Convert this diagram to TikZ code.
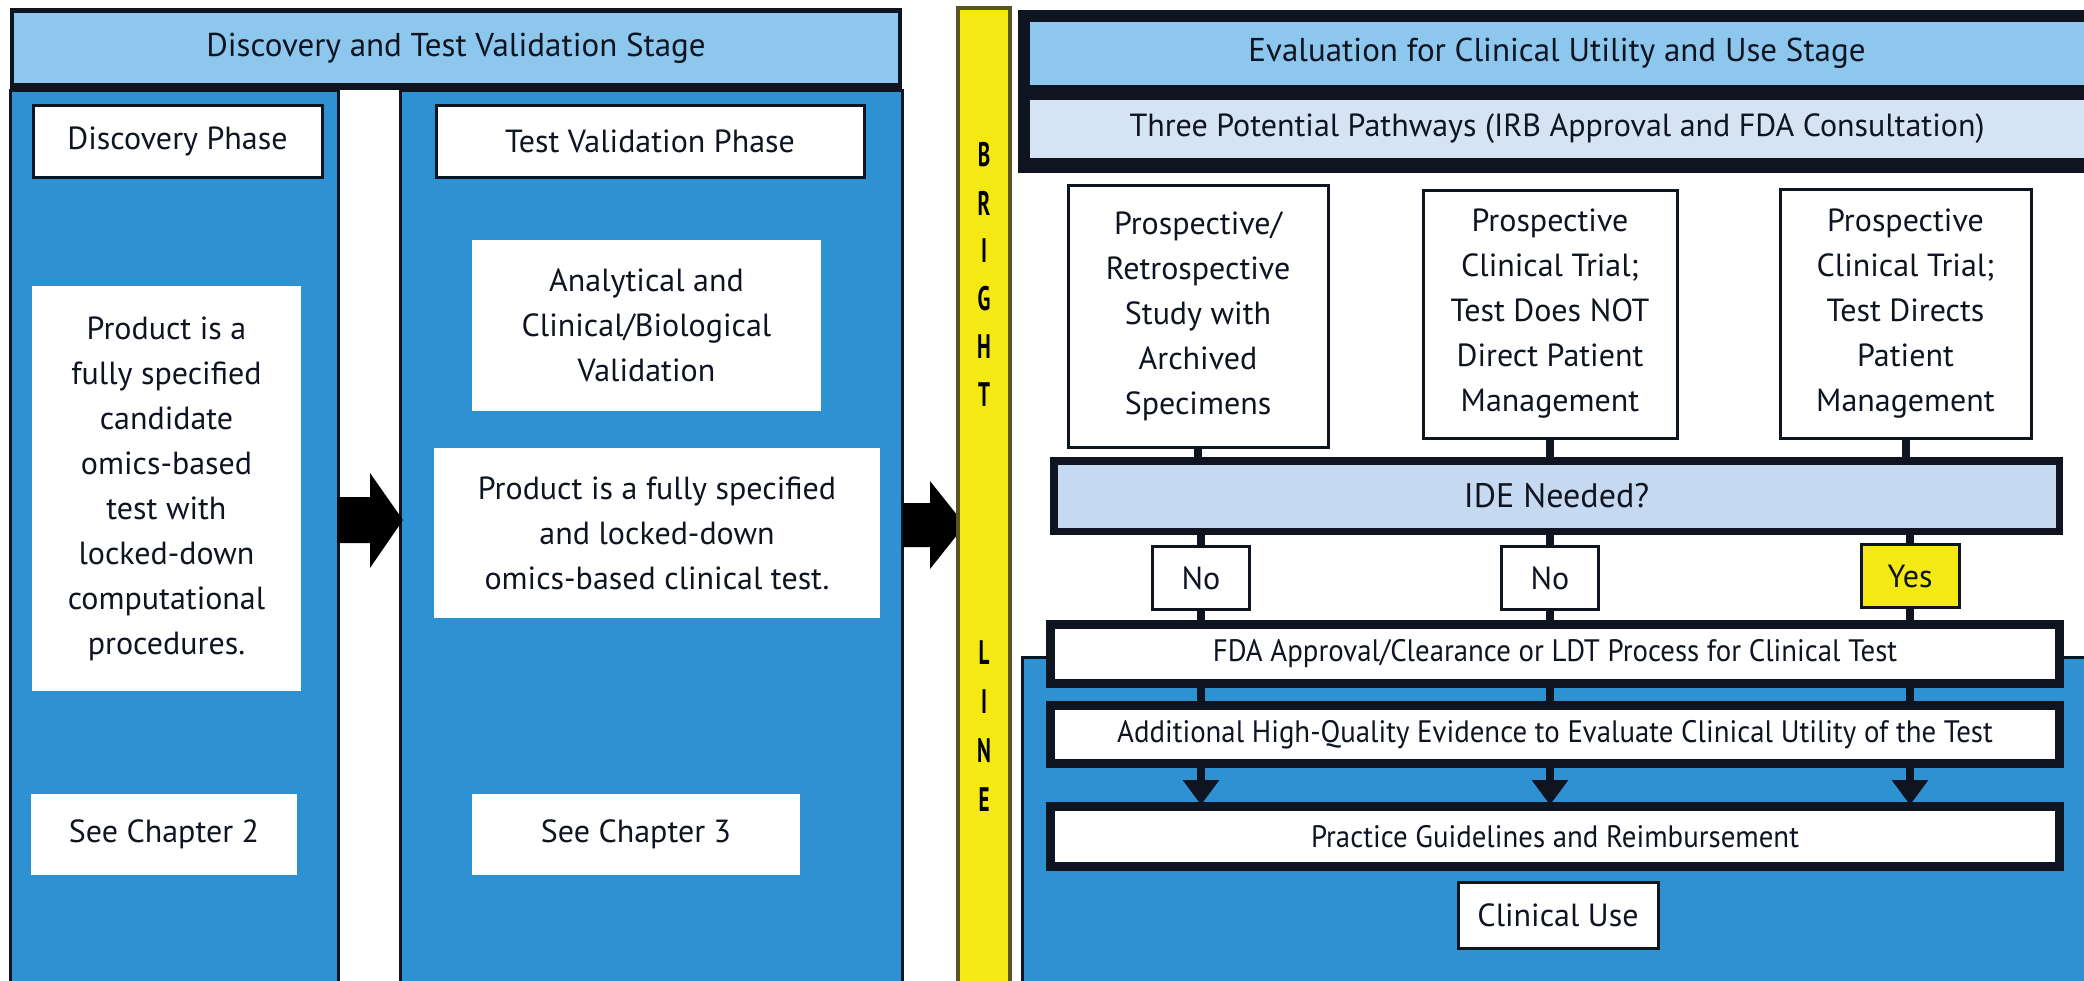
\documentclass[tikz,border=0pt]{standalone}
\usepackage{fontspec}
\setmainfont{PT Sans}
\newfontfamily\barfont[FakeStretch=0.93]{PT Sans}
\newfontfamily\letterfont[FakeStretch=0.62]{PT Sans}
\usetikzlibrary{arrows.meta}

\definecolor{inkc}{RGB}{14,20,32}
\definecolor{midblue}{RGB}{45,145,210}
\definecolor{headblue}{RGB}{141,199,238}
\definecolor{paleblue}{RGB}{214,227,243}
\definecolor{idepale}{RGB}{197,217,240}
\definecolor{brightyellow}{RGB}{245,233,20}
\definecolor{olivec}{RGB}{90,84,30}

\begin{document}
\begin{tikzpicture}[x=1pt,y=-1pt,
  txt/.style={font=\fontsize{32}{45}\selectfont, text=inkc, align=center, inner sep=0pt},
  plainbox/.style={txt, fill=white, draw=none},
  framebox/.style={txt, fill=white, draw=inkc, line width=3pt},
  headbox/.style={txt, font=\fontsize{33}{40}\selectfont, fill=headblue, draw=none},
  barbox/.style={font=\barfont\fontsize{31}{40}\selectfont, text=inkc, align=center, inner sep=0pt,
                 fill=white, draw=inkc, line width=6pt},
  colbox/.style={fill=midblue, draw=inkc, line width=3pt},
  conn/.style={draw=inkc, line width=8pt},
  connarrow/.style={conn, -{Triangle[width=35pt,length=25pt]}},
  blockarrow/.style={fill=black},
  barletter/.style={font=\letterfont\bfseries\fontsize{34}{34}\selectfont, text=black, inner sep=0pt}
]
\useasboundingbox (0,0) rectangle (2084,980);
\fill[white] (0,0) rectangle (2084,980);

% ---------- Discovery and test validation stage ----------
\fill[inkc] (10,8) rectangle (902,90);
\node[headbox, minimum width=884, minimum height=70] (stage1) at (456,48)
  {Discovery and Test Validation Stage};

\draw[colbox] (10,90) rectangle (338,990);
\draw[colbox] (400,90) rectangle (902,990);

\node[framebox, minimum width=289, minimum height=72] (discphase) at (177.5,141) {Discovery Phase};
\node[plainbox, minimum width=269, minimum height=405] (discprod) at (166.5,488.5)
  {Product is a\\fully specified\\candidate\\omics-based\\test with\\locked-down\\computational\\procedures.};
\node[plainbox, minimum width=266, minimum height=81] (chap2) at (164,834.5) {See Chapter 2};

\node[framebox, minimum width=428, minimum height=72] (valphase) at (650,141) {Test Validation Phase};
\node[plainbox, minimum width=349, minimum height=171] (analyt) at (646.5,325.5)
  {Analytical and\\Clinical/Biological\\Validation};
\node[plainbox, minimum width=446, minimum height=170] (valprod) at (657,533)
  {Product is a fully specified\\and locked-down\\omics-based clinical test.};
\node[plainbox, minimum width=328, minimum height=81] (chap3) at (636,834.5) {See Chapter 3};

% block arrows between the stages
\fill[blockarrow] (337,497) -- (370,497) -- (370,473) -- (403,520) -- (370,568) -- (370,543) -- (337,543) -- cycle;
\fill[blockarrow] (903,503) -- (930,503) -- (930,481) -- (965,525) -- (930,569) -- (930,547) -- (903,547) -- cycle;

% ---------- bright line ----------
\draw[fill=brightyellow, draw=olivec, line width=4pt] (958,8) rectangle (1010,990);
\foreach \ch/\yy [count=\i] in {B/155,R/203,I/251,G/299,H/347,T/395}
  \node[barletter] (bright\i) at (984,\yy) {\ch};
\foreach \ch/\yy [count=\i] in {L/653,I/702,N/751,E/800}
  \node[barletter] (line\i) at (984,\yy) {\ch};

% ---------- evaluation for clinical utility and use stage ----------
\fill[inkc] (1018,10) rectangle (2084,173);
\node[headbox, minimum width=1054, minimum height=63] (stage2) at (1557,53.5)
  {Evaluation for Clinical Utility and Use Stage};
\node[txt, fill=paleblue, minimum width=1054, minimum height=58] (paths) at (1557,129)
  {Three Potential Pathways (IRB Approval and FDA Consultation)};

\draw[colbox] (1022,657) rectangle (2090,990);

\node[framebox, minimum width=260, minimum height=262] (path1) at (1198,316)
  {Prospective/\\Retrospective\\Study with\\Archived\\Specimens};
\node[framebox, minimum width=254, minimum height=248] (path2) at (1550,314)
  {Prospective\\Clinical Trial;\\Test Does NOT\\Direct Patient\\Management};
\node[framebox, minimum width=251, minimum height=249] (path3) at (1905.5,313.5)
  {Prospective\\Clinical Trial;\\Test Directs\\Patient\\Management};

\node[txt, font=\fontsize{34}{40}\selectfont, fill=idepale, draw=inkc, line width=5pt,
      minimum width=1003, minimum height=68] (ide) at (1556.5,496) {IDE Needed?};

\node[framebox, minimum width=97, minimum height=63] (no1) at (1201,578) {No};
\node[framebox, minimum width=97, minimum height=63] (no2) at (1550,578) {No};
\node[framebox, fill=brightyellow, minimum width=98, minimum height=63] (yes) at (1910,576) {Yes};

\node[barbox, minimum width=1006, minimum height=56] (fda) at (1555,654)
  {FDA Approval/Clearance or LDT Process for Clinical Test};
\node[barbox, minimum width=1006, minimum height=55] (evid) at (1555,734.5)
  {Additional High-Quality Evidence to Evaluate Clinical Utility of the Test};
\node[barbox, minimum width=1006, minimum height=57] (guide) at (1555,836.5)
  {Practice Guidelines and Reimbursement};
\node[framebox, minimum width=200, minimum height=66] (use) at (1558,915) {Clinical Use};

% vertical connectors of the three pathways
\foreach \p/\d in {path1/no1, path2/no2, path3/yes}{
  \draw[conn] (\p.south) -- (\p.south |- ide.north);
  \draw[conn] (ide.south -| \d.north) -- (\d.north);
  \draw[conn] (\d.south) -- (\d.south |- fda.north);
  \draw[conn] (fda.south -| \d.south) -- (evid.north -| \d.south);
  \draw[connarrow] (evid.south -| \d.south) -- (guide.north -| \d.south);
}
% bar outlines on top of the connector ends
\foreach \b in {fda, evid, guide}
  \draw[inkc, line width=6pt] (\b.north west) rectangle (\b.south east);
\draw[inkc, line width=5pt] (ide.north west) rectangle (ide.south east);
\end{tikzpicture}
\end{document}
